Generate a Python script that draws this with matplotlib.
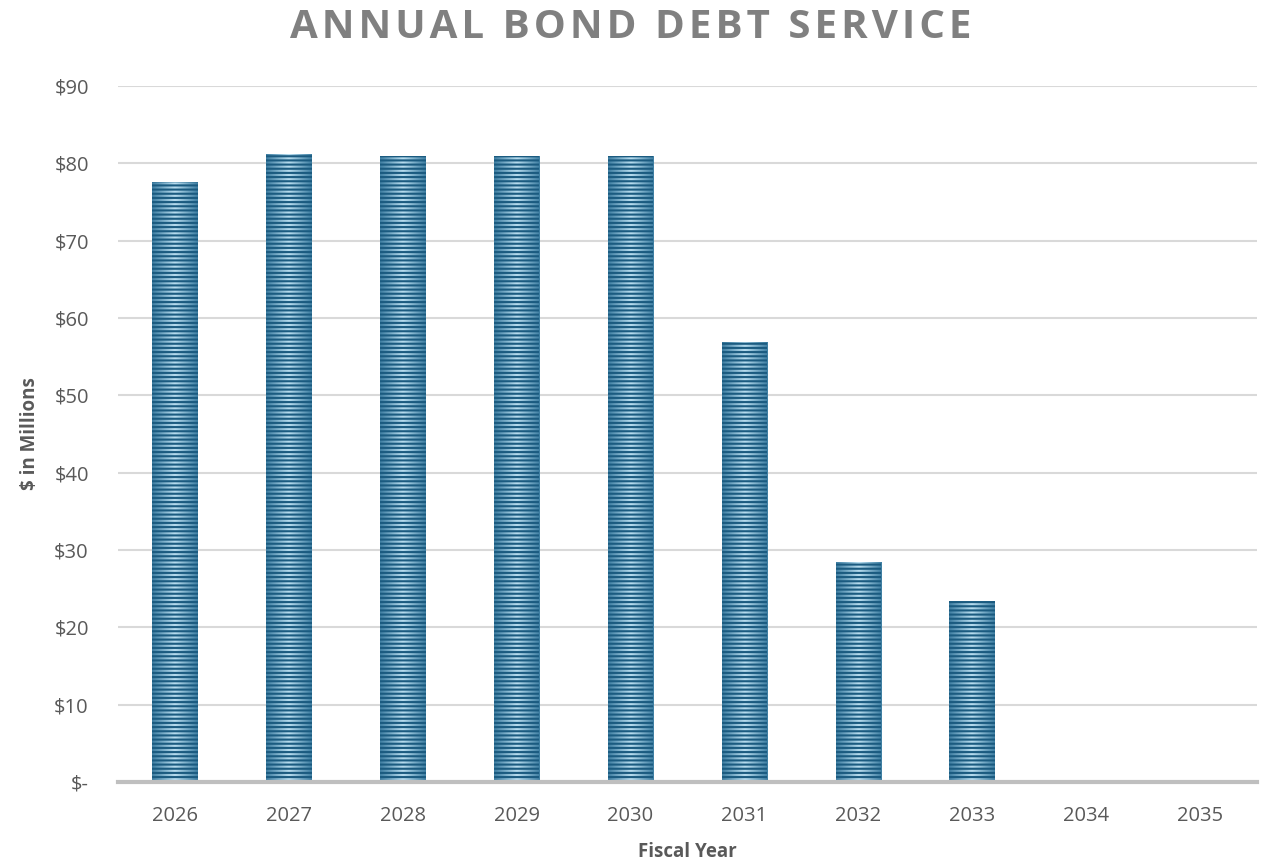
import numpy as np
import matplotlib
matplotlib.use("Agg")
import matplotlib.pyplot as plt
from matplotlib.colors import LinearSegmentedColormap

# data ($ millions)
years = ["2026", "2027", "2028", "2029", "2030", "2031", "2032", "2033", "2034", "2035"]
debt_service = [77.6, 81.2, 80.95, 81.0, 81.0, 56.9, 28.4, 23.4, 0.0, 0.0]
ytick_vals = [0, 10, 20, 30, 40, 50, 60, 70, 80, 90]
ytick_labels = ["$-", "$10", "$20", "$30", "$40", "$50", "$60", "$70", "$80", "$90"]
title = "ANNUAL BOND DEBT SERVICE"

plt.rcParams["font.family"] = ["Open Sans", "DejaVu Sans"]
plt.rcParams["hatch.linewidth"] = 1.5

fig = plt.figure(figsize=(12.61, 8.60), dpi=100)
ax = fig.add_axes([118 / 1261, 1 - 782 / 860, (1257 - 118) / 1261, (782 - 86) / 860])

x = np.arange(len(years))
width = 0.4

# light stripes with a horizontal gradient (dark at edges, light in centre)
cmap = LinearSegmentedColormap.from_list("bar", ["#3f7fa3", "#b9def0", "#3f7fa3"])
grad = np.linspace(0, 1, 64).reshape(1, -1)

bars = ax.bar(x, debt_service, width, facecolor="none", edgecolor="#1b5b80",
              linewidth=0, hatch="----", zorder=3)
for b in bars:
    if b.get_height() <= 0:
        continue
    im = ax.imshow(grad, cmap=cmap, aspect="auto", interpolation="bicubic",
                   extent=[b.get_x(), b.get_x() + b.get_width(), 0, b.get_height()],
                   zorder=2)
    im.set_clip_path(b)

ax.set_xlim(-0.5, len(years) - 0.5)
ax.set_ylim(0, 90)
ax.set_xticks(x)
ax.set_xticklabels(years)
ax.set_yticks(ytick_vals)
ax.set_yticklabels(ytick_labels)

ax.grid(axis="y", color="#d9d9d9", linewidth=1.5, zorder=0)
ax.set_axisbelow(True)
for s in ["top", "right", "left"]:
    ax.spines[s].set_visible(False)
ax.spines["bottom"].set_color("#bfbfbf")
ax.spines["bottom"].set_linewidth(3)
ax.spines["bottom"].set_zorder(4)
ax.tick_params(axis="both", length=0, labelsize=14.5, colors="#595959")
ax.tick_params(axis="x", pad=17)
ax.tick_params(axis="y", pad=21)

ax.set_xlabel("Fiscal Year", fontsize=13.5, fontweight="bold", color="#595959", labelpad=12)
ax.set_ylabel("$ in Millions", fontsize=13.5, fontweight="bold", color="#595959", labelpad=10)

# letter-spaced title
spaced = "\u200a".join(title)
fig.text(0.5, 1 - 27 / 860, spaced, ha="center", va="center",
         fontsize=29, fontweight="bold", color="#808080")

fig.savefig("out.png", dpi=100)
